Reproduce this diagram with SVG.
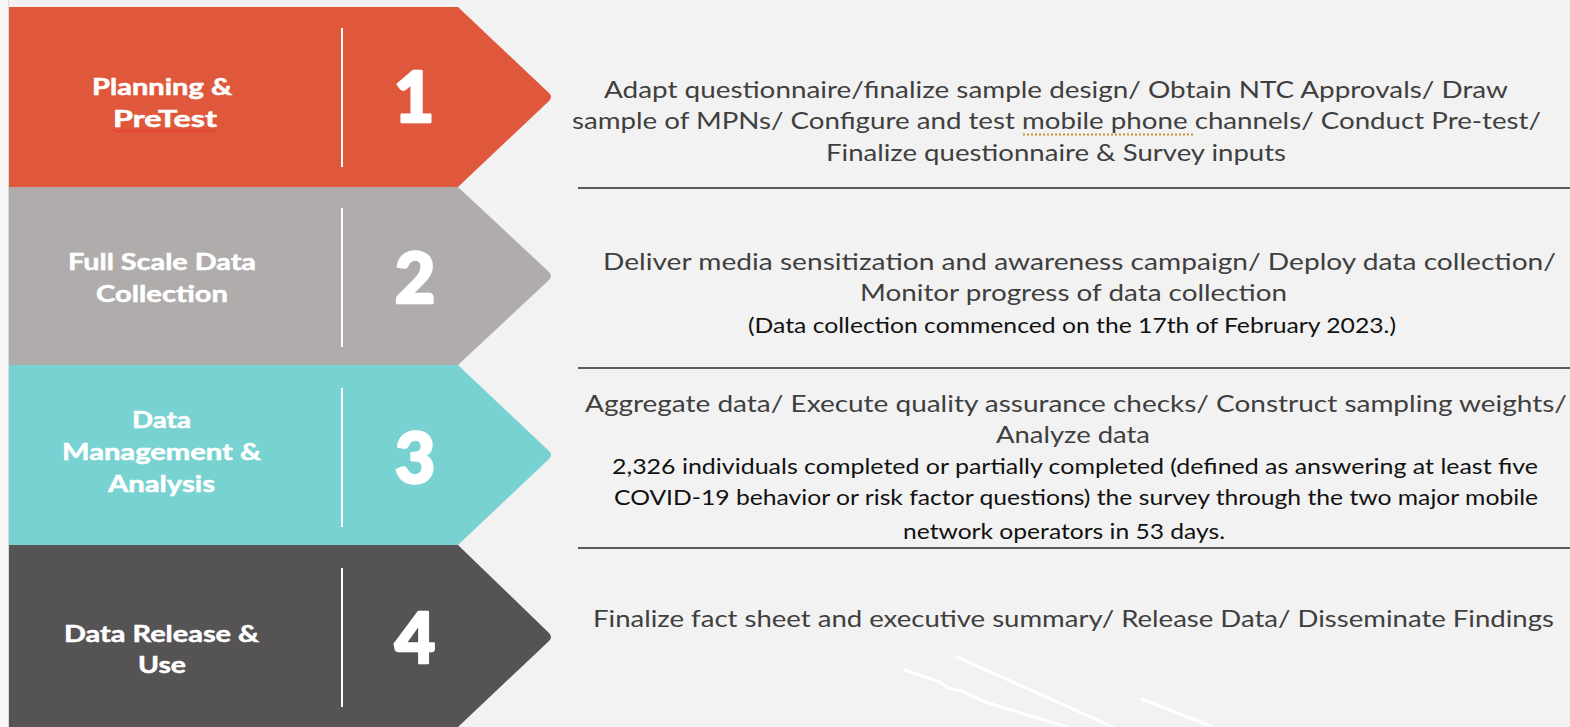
<svg xmlns="http://www.w3.org/2000/svg" width="1570" height="727" viewBox="0 0 1570 727">
<style>
.lbl{font-family:Lato,"Noto Sans",sans-serif;font-weight:700;font-size:22px;fill:#ffffff;stroke:#ffffff;stroke-width:0.5;text-anchor:start}
.num{font-family:Lato,"Noto Sans",sans-serif;font-weight:900;font-size:70px;fill:#ffffff;stroke:#ffffff;stroke-width:2.5;stroke-linejoin:round;text-anchor:middle}
.div{stroke:#ffffff;stroke-width:2}
.desc{font-family:Lato,"Open Sans",sans-serif;font-size:23px;fill:#3f3f3f}
.note{font-family:Lato,"Open Sans",sans-serif;font-size:21px;fill:#111111}
.sep{stroke:#5a5a5a;stroke-width:2}
.streak{stroke:#ffffff;stroke-linecap:round;fill:none}
</style>
<rect x="0" y="0" width="1570" height="727" fill="#f2f2f2"/>
<rect x="0" y="0" width="8" height="727" fill="#f6f6f6"/>
<line x1="8.5" y1="0" x2="8.5" y2="727" stroke="#d8d8d8" stroke-width="1"/>
<g id="streaks">
<path class="streak" stroke-width="3" d="M905,670 L940,682 L948,688 L962,691 L985,702 L1067,727"/>
<path class="streak" stroke-width="3" d="M957,657 L1113,727"/>
<path class="streak" stroke-width="3" d="M1142,699 L1213,727"/>
</g>
<g id="node1">
<path d="M9,7 H458 L549,93 Q553,97 549,101 L458,187 H9 Z" fill="#e0583c"/>
<line class="div" x1="342" y1="28" x2="342" y2="167"/>
<text class="lbl" x="92" y="95" textLength="140" lengthAdjust="spacingAndGlyphs">Planning &amp;</text>
<text class="lbl" x="113" y="127" textLength="104" lengthAdjust="spacingAndGlyphs">PreTest</text>
<path d="M113,131 q2,-2 4,0 t4,0 t4,0 t4,0 t4,0 t4,0 t4,0 t4,0 t4,0 t4,0 t4,0 t4,0 t4,0 t4,0 t4,0 t4,0 t4,0 t4,0 t4,0 t4,0 t4,0 t4,0 t4,0 t4,0 t4,0 t4,0" fill="none" stroke="#e8312a" stroke-width="1"/>
<text class="num" x="414" y="122">1</text>
</g>
<g id="node2">
<path d="M9,187 H458 L549,272 Q553,276 549,280 L458,365 H9 Z" fill="#b0acab"/>
<line class="div" x1="342" y1="208" x2="342" y2="347"/>
<text class="lbl" x="68" y="270" textLength="188" lengthAdjust="spacingAndGlyphs">Full Scale Data</text>
<text class="lbl" x="96" y="302" textLength="132" lengthAdjust="spacingAndGlyphs">Collection</text>
<text class="num" x="415" y="303">2</text>
</g>
<g id="node3">
<path d="M9,365 H458 L549,451 Q553,455 549,459 L458,545 H9 Z" fill="#77d2d1"/>
<line class="div" x1="342" y1="388" x2="342" y2="527"/>
<text class="lbl" x="132" y="428" textLength="59" lengthAdjust="spacingAndGlyphs">Data</text>
<text class="lbl" x="62" y="460" textLength="199" lengthAdjust="spacingAndGlyphs">Management &amp;</text>
<text class="lbl" x="108" y="492" textLength="107" lengthAdjust="spacingAndGlyphs">Analysis</text>
<text class="num" x="415" y="483">3</text>
</g>
<g id="node4">
<path d="M9,545 H458 L549,633 Q553,637 549,641 L458,727 H9 Z" fill="#555354"/>
<line class="div" x1="342" y1="568" x2="342" y2="707"/>
<text class="lbl" x="64" y="642" textLength="195" lengthAdjust="spacingAndGlyphs">Data Release &amp;</text>
<text class="lbl" x="138" y="673" textLength="48" lengthAdjust="spacingAndGlyphs">Use</text>
<text class="num" x="415" y="663">4</text>
</g>
<g id="connectors">
<line class="sep" x1="578" y1="188" x2="1570" y2="188"/>
<line class="sep" x1="578" y1="368" x2="1570" y2="368"/>
<line class="sep" x1="578" y1="548" x2="1570" y2="548"/>
</g>
<g id="desc1">
<text class="desc" x="604" y="98" textLength="904" lengthAdjust="spacingAndGlyphs">Adapt questionnaire/finalize sample design/ Obtain NTC Approvals/ Draw</text>
<text class="desc" x="572" y="129" textLength="969" lengthAdjust="spacingAndGlyphs">sample of MPNs/ Configure and test mobile phone channels/ Conduct Pre-test/</text>
<line x1="1023" y1="134.5" x2="1194" y2="134.5" stroke="#c8922a" stroke-width="2" stroke-dasharray="2,2"/>
<text class="desc" x="826" y="161" textLength="460" lengthAdjust="spacingAndGlyphs">Finalize questionnaire &amp; Survey inputs</text>
</g>
<g id="desc2">
<text class="desc" x="603" y="270" textLength="953" lengthAdjust="spacingAndGlyphs">Deliver media sensitization and awareness campaign/ Deploy data collection/</text>
<text class="desc" x="860" y="301" textLength="427" lengthAdjust="spacingAndGlyphs">Monitor progress of data collection</text>
<text class="note" x="748" y="333" textLength="648" lengthAdjust="spacingAndGlyphs">(Data collection commenced on the 17th of February 2023.)</text>
</g>
<g id="desc3">
<text class="desc" x="585" y="412" textLength="982" lengthAdjust="spacingAndGlyphs">Aggregate data/ Execute quality assurance checks/ Construct sampling weights/</text>
<text class="desc" x="996" y="443" textLength="154" lengthAdjust="spacingAndGlyphs">Analyze data</text>
<text class="note" x="612" y="474" textLength="926" lengthAdjust="spacingAndGlyphs">2,326 individuals completed or partially completed (defined as answering at least five</text>
<text class="note" x="614" y="505" textLength="924" lengthAdjust="spacingAndGlyphs">COVID-19 behavior or risk factor questions) the survey through the two major mobile</text>
<text class="note" x="903" y="539" textLength="322" lengthAdjust="spacingAndGlyphs">network operators in 53 days.</text>
</g>
<g id="desc4">
<text class="desc" x="593" y="627" textLength="961" lengthAdjust="spacingAndGlyphs">Finalize fact sheet and executive summary/ Release Data/ Disseminate Findings</text>
</g>
</svg>
